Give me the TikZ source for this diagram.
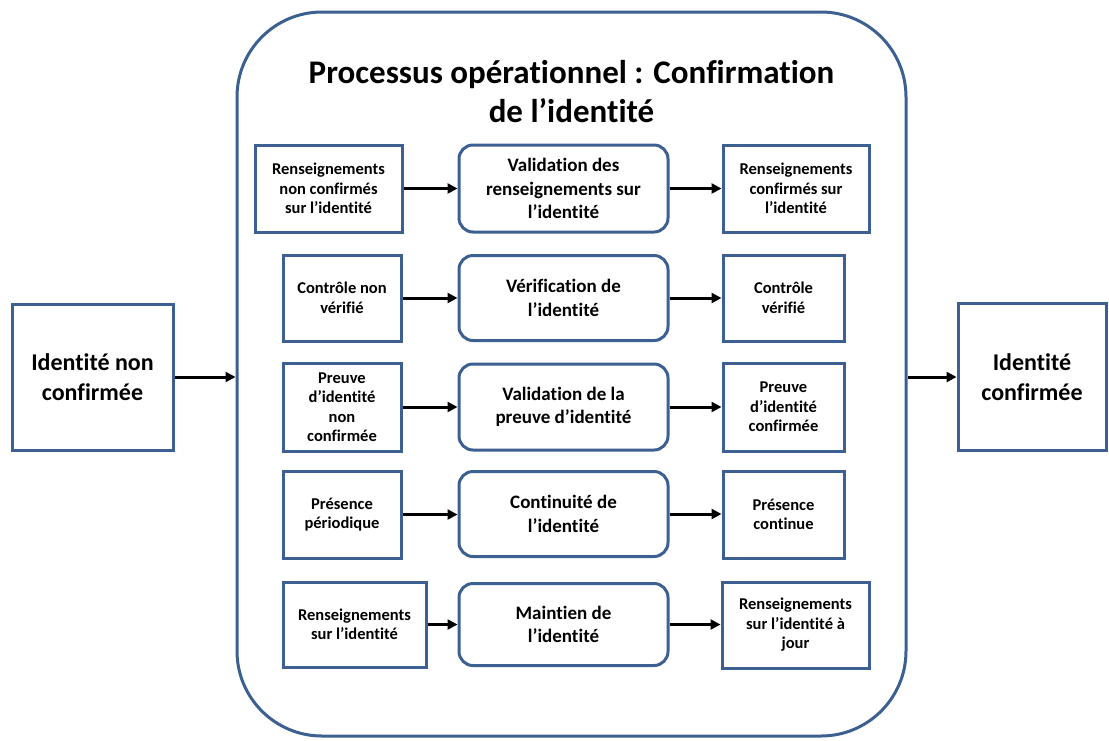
\documentclass[tikz,border=0pt]{standalone}
\usepackage{fontspec}
\setmainfont[Ligatures={NoCommon,NoContextual}]{Carlito}
\usetikzlibrary{arrows.meta}
\definecolor{bordblue}{RGB}{60,96,145}
\begin{document}
\begin{tikzpicture}[x=1pt,y=-1pt,
  box/.style={draw=bordblue,line width=3pt,fill=white,inner sep=1pt,align=center,font=\bfseries\fontsize{16.5}{19.5}\selectfont},
  rbox/.style={box,rounded corners=14pt,font=\bfseries\fontsize{19}{23.5}\selectfont},
  sidebox/.style={box,font=\bfseries\fontsize{24}{30}\selectfont},
  arr/.style={-{Triangle[length=10pt,width=10pt]},line width=3pt,black}]
\useasboundingbox (0,0) rectangle (1109,740);
% outer frame
\node[draw=bordblue,line width=3pt,rounded corners=85pt,minimum width=669pt,minimum height=724pt,inner sep=0pt] (frame) at (571.5,374) {};
\node[align=center,font=\bfseries\fontsize{33}{39}\selectfont] (title) at (571.5,92) {Processus opérationnel : Confirmation\\de l’identité};
% side boxes
\node[sidebox,minimum width=161pt,minimum height=146pt] (in) at (92.5,377) {Identité non\\confirmée};
\node[sidebox,minimum width=148pt,minimum height=147pt] (out) at (1032,377) {Identité\\confirmée};
% row 1
\node[box,minimum width=147pt,minimum height=87pt] (l1) at (328.5,188.5) {Renseignements\\non confirmés\\sur l’identité};
\node[rbox,minimum width=209pt,minimum height=87pt] (m1) at (563.5,188.5) {Validation des\\renseignements sur\\l’identité};
\node[box,minimum width=146pt,minimum height=87pt] (r1) at (796,188.5) {Renseignements\\confirmés sur\\l’identité};
% row 2
\node[box,minimum width=118pt,minimum height=86pt] (l2) at (342,298) {Contrôle non\\vérifié};
\node[rbox,minimum width=209pt,minimum height=85pt] (m2) at (563.5,298) {Vérification de\\l’identité};
\node[box,minimum width=121pt,minimum height=86pt] (r2) at (783.5,298) {Contrôle\\vérifié};
% row 3
\node[box,minimum width=118pt,minimum height=88pt] (l3) at (342,407) {Preuve\\d’identité\\non\\confirmée};
\node[rbox,minimum width=209pt,minimum height=86pt] (m3) at (563.5,407) {Validation de la\\preuve d’identité};
\node[box,minimum width=121pt,minimum height=88pt] (r3) at (783.5,407) {Preuve\\d’identité\\confirmée};
% row 4
\node[box,minimum width=118pt,minimum height=87pt] (l4) at (342,514.5) {Présence\\périodique};
\node[rbox,minimum width=209pt,minimum height=85pt] (m4) at (563.5,514) {Continuité de\\l’identité};
\node[box,minimum width=121pt,minimum height=87pt] (r4) at (783.5,514.5) {Présence\\continue};
% row 5
\node[box,minimum width=143pt,minimum height=85pt] (l5) at (354.5,624.5) {Renseignements\\sur l’identité};
\node[rbox,minimum width=209pt,minimum height=82pt] (m5) at (563.5,624.5) {Maintien de\\l’identité};
\node[box,minimum width=147pt,minimum height=86pt] (r5) at (795.5,625) {Renseignements\\sur l’identité à\\jour};
% arrows
\draw[arr] (in.east) -- (frame.west |- in.east);
\draw[arr] (frame.east |- out.west) -- (out.west);
\foreach \i in {1,...,5}{
  \draw[arr] (l\i.east) -- (m\i.west |- l\i.east);
  \draw[arr] (m\i.east) -- (r\i.west |- m\i.east);
}
\end{tikzpicture}
\end{document}
